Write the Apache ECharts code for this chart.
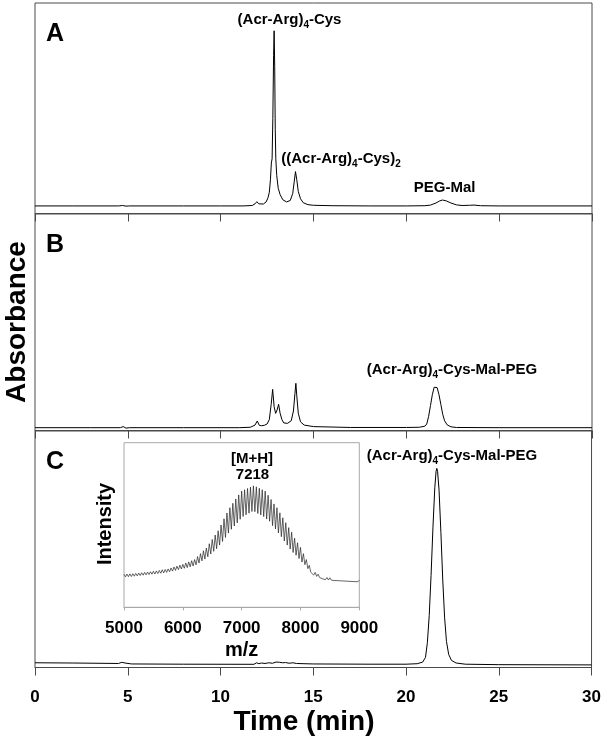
<!DOCTYPE html>
<html><head><meta charset="utf-8">
<script src="https://cdn.jsdelivr.net/npm/echarts@6/dist/echarts.min.js"></script>
<style>html,body{margin:0;padding:0;background:#fff}#c{width:604px;height:742px}</style>
</head><body><div id="c"></div><script>
// ---------- data ----------
const timeA = [0,2,4.5,4.72,4.8,4.9,5.1,8,10,11.2,11.7,11.85,11.95,12.05,12.15,12.3,12.45,12.55,12.62,12.68,12.73,12.77,12.81,12.85,12.88,12.91,12.94,12.97,13.02,13.1,13.2,13.35,13.55,13.75,13.88,13.96,14.03,14.1,14.18,14.3,14.45,14.7,15,16,18,20,21,21.3,21.6,21.8,21.95,22.15,22.4,22.7,23.0,23.4,23.65,24.0,25,30];
const absA  = [3.6,3.6,3.6,3.8,3.9,3.5,3.6,3.6,3.6,3.6,3.8,4.6,5.6,4.6,4.3,4.5,5.5,7.5,10,16,24,26,45,75,86.8,70,40,26,18,12,9,6.5,5.5,6.2,9.5,15,19.9,16,10.5,7,5.1,4.2,3.9,3.7,3.6,3.6,3.7,4.0,5.0,6.0,6.4,6.0,5.0,4.1,3.8,3.9,4.0,3.7,3.6,3.6];

const timeB = [0,3,4.6,4.75,4.9,5.1,8,11,11.6,11.85,11.97,12.08,12.2,12.35,12.5,12.62,12.72,12.8,12.88,12.96,13.04,13.12,13.2,13.3,13.4,13.6,13.8,13.92,14.0,14.05,14.1,14.18,14.3,14.5,15,17,20,20.7,21.0,21.1,21.2,21.3,21.4,21.5,21.58,21.66,21.76,21.86,21.96,22.06,22.2,22.4,22.7,25,30];
const absB  = [1.3,1.3,1.3,1.8,1.1,1.3,1.3,1.3,1.5,2.5,4.4,2.4,2.2,2.4,3.0,5.0,12,19,11,7.9,9.5,12.1,8,5,3.5,3.3,4.5,9,17,21.8,16,8,4,2.5,1.8,1.4,1.4,1.5,2.0,3.0,6.5,11.5,16.5,20,20.7,19.8,16.5,12,7.5,4.5,2.6,1.7,1.4,1.3,1.3];

const timeC = [0,2,4.5,4.68,4.76,4.85,4.95,5.2,8,11.8,11.95,12.0,12.07,12.2,12.4,12.6,12.8,13.0,13.07,13.18,13.35,13.5,13.7,13.9,14.1,14.5,15,18,20,20.6,20.9,21.05,21.15,21.25,21.35,21.45,21.55,21.62,21.66,21.7,21.78,21.88,21.98,22.08,22.18,22.3,22.45,22.7,23.2,25,30];
const absC  = [2.0,1.9,1.7,2.2,2.8,1.9,1.4,1.5,1.4,1.35,2.0,2.7,1.6,1.9,1.7,2.0,1.8,2.3,2.9,2.2,2.0,2.1,1.8,2.0,1.7,1.6,1.5,1.4,1.4,1.6,2.3,4.3,10.5,22,39,59,76,83,84.2,83,75,57,37,21,11,5.5,3.0,1.9,1.4,1.2,1.1];

// MALDI inset: intensity sampled every mzStep from mzStart
const mzStart = 5000, mzStep = 25;
const intensity = [
  20.1,18.5,20.2,18.6,20.3,18.7,20.4,18.9,20.6,19.1,20.8,19.3,21.0,19.5,21.2,19.7,21.4,19.9,21.6,20.1,
  21.9,20.2,22.1,20.5,22.4,20.7,22.8,20.9,23.0,21.2,23.3,21.6,23.9,22.0,24.5,22.4,25.0,22.9,25.6,23.3,
  26.1,23.7,26.9,24.1,27.6,24.6,28.3,25.1,29.0,25.8,30.8,26.9,32.6,28.2,34.3,29.3,36.0,30.7,38.6,32.4,
  41.2,34.0,43.9,35.6,46.5,37.8,50.0,40.0,53.8,42.4,57.3,45.1,60.5,47.4,63.2,49.4,65.8,51.3,68.3,53.5,
  70.6,55.2,71.4,56.2,72.2,57.2,73.0,58.2,73.8,58.1,73.2,57.0,72.3,56.1,71.4,55.1,70.6,53.6,68.1,52.3,
  65.5,49.6,62.8,47.6,60.5,45.2,57.4,42.9,54.4,40.3,51.4,37.8,48.4,35.4,45.6,33.3,42.0,31.6,39.2,29.6,
  36.4,27.5,32.6,25.9,29.0,23.5,25.5,21.3,22.2,19.6,21.2,18.8,20.1,18.1,19.3,17.3,18.4,16.8,18.1,16.6,
  17.9,16.5,17.6,16.3,17.4,16.2,17.3,16.1,17.2,16.0,17.0,15.9,16.9,15.8,16.8,15.7,16.7,15.6,16.6,15.5,
  16.5];

const timeRange = [0, 30], timeTickStep = 5;
const mzRange = [5000, 9000], mzTickStep = 1000;

// ---------- chart ----------
const FONT = '"Liberation Sans", Arial, Helvetica, sans-serif';
const frame = '#4a4a4a';
const chart = echarts.init(document.getElementById('c'), null, {renderer: 'canvas'});
const pairs = (x, y) => x.map((t, i) => [t, y[i]]);
const mzPairs = intensity.map((v, i) => [mzStart + i * mzStep, v]);

function mainX(idx, labels) {
  return {
    type: 'value', gridIndex: idx, min: timeRange[0], max: timeRange[1], interval: timeTickStep,
    axisLine: {show: true, lineStyle: {color: frame, width: 1}},
    axisTick: {show: true, length: 8, lineStyle: {color: frame, width: 1}},
    axisLabel: {show: labels, margin: 21, fontSize: 17, fontWeight: 'bold', color: '#000', fontFamily: FONT},
    splitLine: {show: false}
  };
}
function hiddenY(idx) {
  return {type: 'value', gridIndex: idx, min: 0, max: 100, show: false, splitLine: {show: false}};
}
function trace(idx, data, w, c) {
  return {type: 'line', xAxisIndex: idx, yAxisIndex: idx, data: data, showSymbol: false, symbol: 'none',
    lineStyle: {color: c || '#000', width: w || 1}, animation: false, silent: true};
}
const boxed = {show: true, borderColor: frame, borderWidth: 1, backgroundColor: 'transparent'};

const sub = {fontSize: 10, fontWeight: 'bold', fontFamily: FONT, fill: '#000', lineHeight: 10, verticalAlign: 'bottom'};
const nrm = {fontSize: 15, fontWeight: 'bold', fontFamily: FONT, fill: '#000', lineHeight: 20};
function label(x, y, text) {
  return {type: 'text', x: x, y: y, silent: true,
    style: {text: text, rich: {n: nrm, s: sub}, align: 'center', verticalAlign: 'middle'}};
}
function plain(x, y, text, size, rot) {
  return {type: 'text', x: x, y: y, rotation: rot || 0, silent: true,
    style: {text: text, fontSize: size, fontWeight: 'bold', fontFamily: FONT, fill: '#000', align: 'center', verticalAlign: 'middle'}};
}

chart.setOption({
  animation: false,
  backgroundColor: '#fff',
  grid: [
    Object.assign({left: 35, right: 12, top: 3, height: 210.5}, boxed),
    Object.assign({left: 35, right: 12, top: 214, height: 216.5}, boxed),
    Object.assign({left: 35, right: 12, top: 431, height: 236.5}, boxed),
    {show: true, left: 124, right: 244.7, top: 442.7, height: 164.6, borderColor: '#a8a8a8', borderWidth: 1, backgroundColor: 'transparent'}
  ],
  xAxis: [
    mainX(0, false), mainX(1, false), mainX(2, true),
    {type: 'value', gridIndex: 3, min: mzRange[0], max: mzRange[1], interval: mzTickStep,
      axisLine: {show: true, lineStyle: {color: '#a8a8a8', width: 1}},
      axisTick: {show: true, length: 3, lineStyle: {color: '#a8a8a8'}},
      axisLabel: {show: true, margin: 13, fontSize: 17, fontWeight: 'bold', color: '#000', fontFamily: FONT,
        formatter: v => String(v)},
      splitLine: {show: false}}
  ],
  yAxis: [hiddenY(0), hiddenY(1), hiddenY(2), hiddenY(3)],
  series: [
    trace(0, pairs(timeA, absA)),
    trace(1, pairs(timeB, absB)),
    trace(2, pairs(timeC, absC)),
    trace(3, mzPairs, 0.7, '#222')
  ],
  graphic: [
    plain(55, 34, 'A', 25), plain(55, 245, 'B', 25), plain(55, 462, 'C', 25),
    label(289.5, 20, '{n|(Acr-Arg)}{s|4}{n|-Cys}'),
    label(341, 159, '{n|((Acr-Arg)}{s|4}{n|-Cys)}{s|2}'),
    label(444.7, 188, '{n|PEG-Mal}'),
    label(452, 370, '{n|(Acr-Arg)}{s|4}{n|-Cys-Mal-PEG}'),
    label(452, 456, '{n|(Acr-Arg)}{s|4}{n|-Cys-Mal-PEG}'),
    plain(252, 459, '[M+H]', 15), plain(252.5, 475, '7218', 15),
    plain(105, 524, 'Intensity', 20, Math.PI / 2),
    plain(241.7, 650, 'm/z', 20),
    plain(17, 322, 'Absorbance', 28, Math.PI / 2),
    plain(304, 722, 'Time (min)', 28)
  ]
});
</script></body></html>
